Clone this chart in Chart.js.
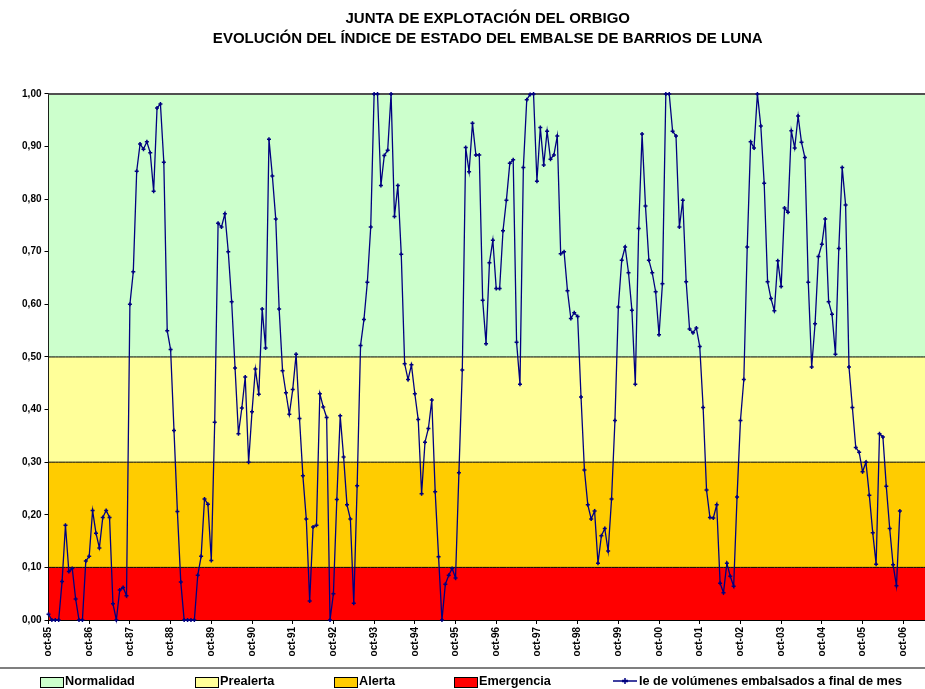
<!DOCTYPE html>
<html lang="es">
<head>
<meta charset="utf-8">
<title>Índice de estado - Barrios de Luna</title>
<script src="https://cdn.jsdelivr.net/npm/chart.js@4/dist/chart.umd.min.js"></script>
<style>
  html, body { margin: 0; padding: 0; background: #fff; }
  #wrap { position: relative; width: 925px; height: 689px; overflow: hidden;
          font-family: "Liberation Sans", Arial, sans-serif; }
  #chart { position: absolute; left: 0; top: 0; }
  #legend { position: absolute; left: 0; top: 667px; width: 925px; height: 22px;
            border-top: 2px solid #7f7f7f; }
  .sw { position: absolute; top: 8px; width: 22px; height: 9px; border: 1px solid #000; }
  .lt { position: absolute; top: 5px; font-size: 12.7px; font-weight: bold; color: #000; line-height: 14px; white-space: nowrap; }
</style>
</head>
<body>
<div id="wrap">
  <canvas id="chart" width="970" height="689"></canvas>
  <div id="legend"></div>
</div>
<script>
// Ie (índice de estado) al final de cada mes, por año hidrológico (oct -> sep)
const hy1985 = [0.011, 0, 0, 0, 0.073, 0.180, 0.092, 0.098, 0.040, 0, 0, 0.112];
const hy1986 = [0.121, 0.208, 0.165, 0.137, 0.195, 0.208, 0.195, 0.031, 0, 0.057, 0.062, 0.046];
const hy1987 = [0.600, 0.662, 0.853, 0.905, 0.895, 0.909, 0.888, 0.815, 0.973, 0.981, 0.870, 0.550];
const hy1988 = [0.514, 0.360, 0.206, 0.072, 0, 0, 0, 0, 0.085, 0.121, 0.230, 0.220];
const hy1989 = [0.113, 0.376, 0.754, 0.747, 0.772, 0.700, 0.605, 0.479, 0.354, 0.403, 0.462, 0.300];
const hy1990 = [0.396, 0.477, 0.429, 0.591, 0.517, 0.914, 0.844, 0.762, 0.591, 0.474, 0.432, 0.391];
const hy1991 = [0.438, 0.505, 0.383, 0.274, 0.192, 0.036, 0.177, 0.180, 0.430, 0.405, 0.385, 0.000];
const hy1992 = [0.050, 0.229, 0.388, 0.310, 0.219, 0.192, 0.032, 0.255, 0.522, 0.571, 0.642, 0.747];
const hy1993 = [1.000, 1.000, 0.826, 0.883, 0.893, 1.000, 0.767, 0.826, 0.695, 0.487, 0.457, 0.485];
const hy1994 = [0.430, 0.381, 0.240, 0.338, 0.364, 0.418, 0.244, 0.120, 0.000, 0.068, 0.085, 0.098];
const hy1995 = [0.080, 0.280, 0.475, 0.898, 0.852, 0.944, 0.884, 0.884, 0.608, 0.525, 0.679, 0.722];
const hy1996 = [0.630, 0.630, 0.740, 0.798, 0.868, 0.875, 0.528, 0.448, 0.860, 0.989, 0.999, 1.000];
const hy1997 = [0.834, 0.936, 0.865, 0.929, 0.876, 0.884, 0.920, 0.696, 0.700, 0.626, 0.573, 0.584];
const hy1998 = [0.577, 0.424, 0.285, 0.219, 0.192, 0.207, 0.108, 0.160, 0.174, 0.131, 0.230, 0.379];
const hy1999 = [0.595, 0.684, 0.709, 0.660, 0.589, 0.448, 0.744, 0.924, 0.787, 0.684, 0.660, 0.624];
const hy2000 = [0.542, 0.639, 1.000, 1.000, 0.929, 0.920, 0.747, 0.798, 0.643, 0.553, 0.546, 0.555];
const hy2001 = [0.520, 0.404, 0.247, 0.195, 0.194, 0.219, 0.070, 0.052, 0.108, 0.083, 0.064, 0.234];
const hy2002 = [0.379, 0.457, 0.709, 0.909, 0.897, 1.000, 0.939, 0.830, 0.643, 0.611, 0.588, 0.683];
const hy2003 = [0.634, 0.783, 0.775, 0.930, 0.897, 0.958, 0.908, 0.879, 0.642, 0.481, 0.563, 0.691];
const hy2004 = [0.714, 0.762, 0.605, 0.581, 0.505, 0.706, 0.860, 0.789, 0.481, 0.404, 0.328, 0.319];
const hy2005 = [0.282, 0.300, 0.237, 0.166, 0.106, 0.354, 0.348, 0.254, 0.174, 0.105, 0.065, 0.207];

const ieData = [].concat(hy1985, hy1986, hy1987, hy1988, hy1989, hy1990, hy1991,
  hy1992, hy1993, hy1994, hy1995, hy1996, hy1997, hy1998, hy1999, hy2000,
  hy2001, hy2002, hy2003, hy2004, hy2005);

// categorías mensuales del eje (oct-85 ... may-07, el gráfico original sigue a la derecha)
const monthNames = ["oct", "nov", "dic", "ene", "feb", "mar", "abr", "may", "jun", "jul", "ago", "sep"];
const firstYear = 1985;
const axisMonths = 260;
const labels = [];
for (let i = 0; i < axisMonths; i++) {
  const m = i % 12;
  const year = firstYear + Math.floor(i / 12) + (m >= 3 ? 1 : 0);
  labels.push(monthNames[m] + "-" + String(year % 100).padStart(2, "0"));
}

// umbrales de estado
const bandNames = ["Emergencia", "Alerta", "Prealerta", "Normalidad"];
const bandLimits = [0.10, 0.30, 0.50, 1.00];
const bandColors = ["#FF0000", "#FFCC00", "#FFFF99", "#CCFFCC"];
const yTicks = [0, 0.1, 0.2, 0.3, 0.4, 0.5, 0.6, 0.7, 0.8, 0.9, 1.0];

const FONT = "'Liberation Sans', Arial, sans-serif";

const bandSets = bandNames.map((name, i) => ({
  label: name,
  data: labels.map(() => bandLimits[i]),
  fill: i === 0 ? "origin" : "-1",
  backgroundColor: bandColors[i],
  borderColor: i === 3 ? "#505050" : "#000",
  borderWidth: i === 3 ? 2 : 1,
  pointRadius: 0,
  clip: 3,
  order: 10
}));

new Chart(document.getElementById("chart"), {
  type: "line",
  data: {
    labels,
    datasets: [
      ...bandSets,
      {
        label: "Ie de volúmenes embalsados a final de mes",
        data: ieData,
        borderColor: "#000080",
        backgroundColor: "#000080",
        borderWidth: 1.3,
        pointStyle: "cross",
        pointRadius: 2,
        pointBorderWidth: 1.5,
        pointBorderColor: "#000080",
        fill: false,
        tension: 0,
        clip: 4,
        order: 0
      }
    ]
  },
  options: {
    responsive: false,
    animation: false,
    devicePixelRatio: 1,
    layout: { padding: { left: 0, right: 43, top: 0, bottom: 19 } },
    plugins: {
      legend: { display: false },
      tooltip: { enabled: false },
      title: {
        display: true,
        fullSize: false,
        text: ["JUNTA DE EXPLOTACIÓN DEL ORBIGO", "EVOLUCIÓN DEL ÍNDICE DE ESTADO DEL EMBALSE DE BARRIOS DE LUNA"],
        color: "#000",
        font: { family: FONT, size: 15, weight: "bold", lineHeight: 1.33 },
        padding: { top: 9, bottom: 45 }
      }
    },
    scales: {
      x: {
        type: "category",
        offset: false,
        grid: { display: true, drawOnChartArea: false, drawTicks: true, tickLength: 4, color: "#000" },
        border: { display: true, color: "#000", width: 1 },
        ticks: {
          autoSkip: false,
          minRotation: 90,
          maxRotation: 90,
          padding: 3,
          color: "#000",
          font: { family: FONT, size: 10, weight: "bold" },
          callback(value, index) {
            return index % 12 === 0 ? this.getLabelForValue(value) : null;
          }
        },
        afterFit(scale) { scale.height = 50; }
      },
      y: {
        min: 0,
        max: 1,
        grid: { display: true, drawOnChartArea: false, drawTicks: true, tickLength: 4, color: "#000" },
        border: { display: true, color: "#000", width: 1 },
        afterBuildTicks(scale) { scale.ticks = yTicks.map(v => ({ value: v })); },
        ticks: {
          padding: 3,
          color: "#000",
          font: { family: FONT, size: 10, weight: "bold" },
          callback: v => v.toFixed(2).replace(".", ",")
        },
        afterFit(scale) { scale.width = 48.5; }
      }
    }
  }
});

// leyenda (como en la hoja original, debajo del eje)
const legendItems = [
  { name: "Normalidad", color: "#CCFFCC", x: 40 },
  { name: "Prealerta", color: "#FFFF99", x: 195 },
  { name: "Alerta", color: "#FFCC00", x: 334 },
  { name: "Emergencia", color: "#FF0000", x: 454 }
];
const legend = document.getElementById("legend");
legendItems.forEach(it => {
  const sw = document.createElement("span");
  sw.className = "sw";
  sw.style.left = it.x + "px";
  sw.style.background = it.color;
  const tx = document.createElement("span");
  tx.className = "lt";
  tx.style.left = (it.x + 25) + "px";
  tx.textContent = it.name;
  legend.append(sw, tx);
});
const lineKey = document.createElementNS("http://www.w3.org/2000/svg", "svg");
lineKey.setAttribute("width", "24");
lineKey.setAttribute("height", "10");
lineKey.style.cssText = "position:absolute;left:613px;top:7px";
lineKey.innerHTML = '<line x1="0" y1="5" x2="24" y2="5" stroke="#000080" stroke-width="1.5"/>' +
  '<line x1="12" y1="2" x2="12" y2="8" stroke="#000080" stroke-width="1.5"/>' +
  '<line x1="9" y1="5" x2="15" y2="5" stroke="#000080" stroke-width="2.5"/>';
const lineText = document.createElement("span");
lineText.className = "lt";
lineText.style.left = "639px";
lineText.textContent = "Ie de volúmenes embalsados a final de mes";
legend.append(lineKey, lineText);
</script>
</body>
</html>
